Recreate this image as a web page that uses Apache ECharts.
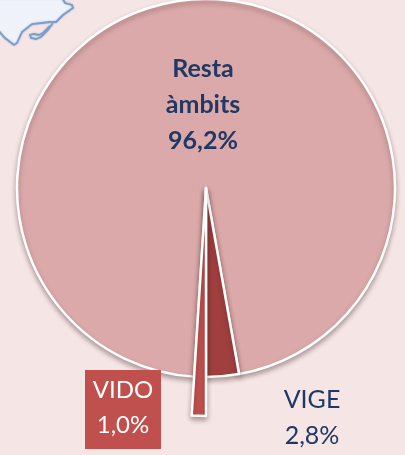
<!DOCTYPE html>
<html>
<head>
<meta charset="utf-8">
<style>
  html, body { margin: 0; padding: 0; background: #f5e5e5; }
  #chart { width: 405px; height: 455px; }
</style>
<script src="https://cdn.jsdelivr.net/npm/echarts@6/dist/echarts.min.js"></script>
</head>
<body>
<div id="chart"></div>
<script>
const categories = ['Resta àmbits', 'VIGE', 'VIDO']
const values = [96.2, 2.8, 1.0]
const valueLabels = ['96,2%', '2,8%', '1,0%']
const sliceColors = ['#dba9a9', '#a03f3e', '#c0504d']

const center = [206, 188]
const startAngle = 266.4

// coast outline in the top left corner, only decoration
const coast = [[-2, -2], [62, -2], [65, 3], [72, 5], [73, 8], [63, 15], [56, 22], [50, 22], [32, 24], [22, 32], [17, 43], [14, 45], [5, 38], [-2, 30]]
const islet = [[53, 23], [48, 30], [41, 37], [36, 39], [31, 38], [30, 35], [34, 34], [39, 35], [43, 33], [50, 26]]

const coastStyle = { stroke: '#7d9cc6', lineWidth: 1.8, shadowBlur: 2, shadowColor: '#9db5d6' }

const chart = echarts.init(document.getElementById('chart'))

function labelText(i) {
  if (i === 0) {
    return '{main|Resta\nàmbits\n' + valueLabels[0] + '}'
  }
  return categories[i] + '\n' + valueLabels[i]
}

chart.setOption({
  backgroundColor: '#f5e5e5',
  animation: false,
  graphic: [
    {
      type: 'polyline',
      shape: { points: coast },
      style: { fill: '#eff3f9', ...coastStyle }
    },
    {
      type: 'polyline',
      shape: { points: islet },
      style: { fill: 'none', ...coastStyle }
    }
  ],
  series: [
    {
      type: 'pie',
      center: center,
      radius: [0, 189],
      startAngle: startAngle,
      clockwise: true,
      silent: true,
      itemStyle: {
        borderColor: '#ffffff',
        borderWidth: 2.5,
        shadowBlur: 5,
        shadowColor: 'rgba(60,30,30,0.35)',
        shadowOffsetY: 3
      },
      label: {
        show: true,
        position: 'inside',
        fontFamily: 'Lato',
        fontSize: 25,
        lineHeight: 36,
        formatter: (p) => labelText(p.dataIndex),
        rich: {
          main: { fontFamily: 'Lato', fontSize: 25, fontWeight: 'bold', lineHeight: 36, color: '#1f3864' }
        }
      },
      labelLine: { show: false },
      labelLayout: (p) => {
        if (p.dataIndex === 0) return { x: 203, y: 105, align: 'center', verticalAlign: 'middle' }
        return { x: 312, y: 418, align: 'center', verticalAlign: 'middle' }
      },
      data: [
        { name: categories[0], value: values[0], itemStyle: { color: sliceColors[0] } },
        { name: categories[1], value: values[1], itemStyle: { color: sliceColors[1] }, label: { color: '#1f3864' } },
        { name: categories[2], value: values[2], itemStyle: { color: 'rgba(0,0,0,0)', borderColor: 'rgba(0,0,0,0)', shadowBlur: 0, shadowColor: 'rgba(0,0,0,0)' }, label: { show: false } }
      ]
    },
    {
      // VIDO sticks out past the rest of the pie
      type: 'pie',
      center: center,
      radius: [0, 228],
      startAngle: startAngle,
      clockwise: true,
      silent: true,
      label: {
        show: true,
        position: 'inside',
        fontFamily: 'Lato',
        fontSize: 24,
        lineHeight: 35,
        color: '#ffffff',
        backgroundColor: '#c0504d',
        width: 76,
        height: 76,
        padding: [3, 0, 0, 0],
        align: 'center',
        verticalAlign: 'top',
        formatter: (p) => labelText(p.dataIndex)
      },
      labelLine: { show: false },
      labelLayout: () => ({ x: 123, y: 370, align: 'center', verticalAlign: 'top' }),
      data: [
        { name: categories[0], value: values[0], itemStyle: { color: 'rgba(0,0,0,0)' }, label: { show: false } },
        { name: categories[1], value: values[1], itemStyle: { color: 'rgba(0,0,0,0)' }, label: { show: false } },
        {
          name: categories[2],
          value: values[2],
          itemStyle: {
            color: sliceColors[2],
            borderColor: '#ffffff',
            borderWidth: 2.5,
            shadowBlur: 5,
            shadowColor: 'rgba(60,30,30,0.35)',
            shadowOffsetY: 3
          }
        }
      ]
    }
  ]
})
</script>
</body>
</html>
